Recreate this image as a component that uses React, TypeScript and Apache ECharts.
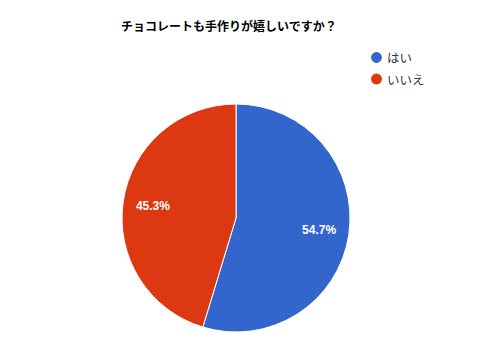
import React, { useEffect, useRef } from "react";
import * as echarts from "echarts";

const titleText = "チョコレートも手作りが嬉しいですか？";
const categories = ["はい", "いいえ"];
const values = [54.7, 45.3];
const colors = ["#3366cc", "#dc3912"];

export default function App() {
  const ref = useRef<HTMLDivElement>(null);
  useEffect(() => {
    if (!ref.current) return;
    const chart = echarts.init(ref.current, null, { renderer: "svg" });
    const data = categories.map((name, i) => ({
      name,
      value: values[i],
      itemStyle: { color: colors[i] },
    }));
    chart.setOption({
      animation: false,
      backgroundColor: "#ffffff",
      title: {
        text: titleText,
        left: 121,
        top: 19,
        padding: 0,
        textStyle: {
          fontFamily: "Noto Sans CJK JP",
          fontSize: 12,
          fontWeight: "bold",
          color: "#000000",
        },
      },
      legend: {
        orient: "vertical",
        left: 369,
        top: 50,
        padding: 0,
        icon: "circle",
        itemWidth: 13,
        itemHeight: 13,
        itemGap: 6.5,
        data: categories,
        textStyle: {
          fontFamily: "Noto Sans CJK JP",
          fontSize: 12.5,
          color: "#333333",
          padding: [0, 0, 0, -1],
        },
      },
      series: [
        {
          type: "pie",
          center: [236, 218],
          radius: [0, 114],
          startAngle: 90,
          clockwise: true,
          data,
          label: { show: false },
          labelLine: { show: false },
          itemStyle: { borderColor: "#ffffff", borderWidth: 1 },
          emphasis: { disabled: true },
          silent: true,
        },
        {
          type: "pie",
          center: [236, 218],
          radius: [48, 114],
          startAngle: 90,
          clockwise: true,
          data: categories.map((name, i) => ({
            name,
            value: values[i],
            itemStyle: { color: "transparent" },
          })),
          itemStyle: { borderWidth: 0 },
          label: {
            show: true,
            position: "inside",
            formatter: (p: any) => p.value.toFixed(1) + "%",
            color: "#ffffff",
            fontFamily: "Liberation Sans",
            fontWeight: "bold",
            fontSize: 12,
          },
          labelLine: { show: false },
          emphasis: { disabled: true },
          silent: true,
          legendHoverLink: false,
        },
      ],
    });
    return () => chart.dispose();
  }, []);
  return <div ref={ref} style={{ width: 491, height: 351, margin: -8 }} />;
}
